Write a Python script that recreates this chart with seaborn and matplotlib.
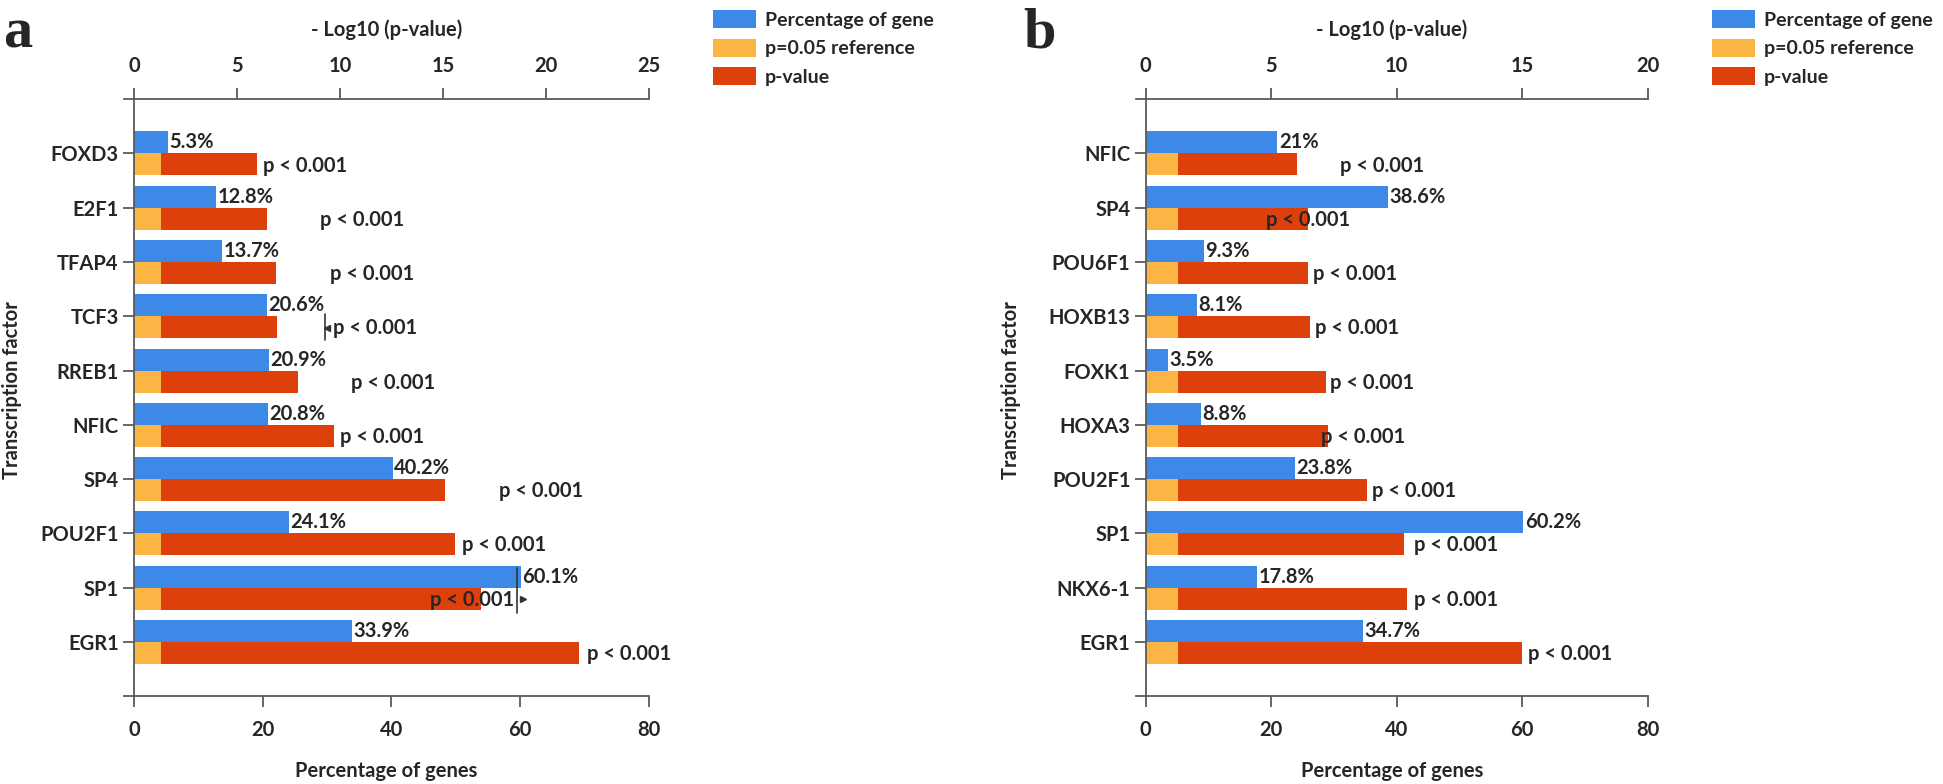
import matplotlib
matplotlib.use('Agg')
import matplotlib.pyplot as plt
from matplotlib.patches import Patch
import numpy as np
import pandas as pd
import seaborn as sns

# panel a
tf_a = ['FOXD3', 'E2F1', 'TFAP4', 'TCF3', 'RREB1', 'NFIC', 'SP4', 'POU2F1', 'SP1', 'EGR1']
pct_a = [5.3, 12.8, 13.7, 20.6, 20.9, 20.8, 40.2, 24.1, 60.1, 33.9]
logp_a = [5.95, 6.44, 6.88, 6.93, 7.95, 9.73, 15.09, 15.6, 16.87, 21.6]

# panel b
tf_b = ['NFIC', 'SP4', 'POU6F1', 'HOXB13', 'FOXK1', 'HOXA3', 'POU2F1', 'SP1', 'NKX6-1', 'EGR1']
pct_b = [21, 38.6, 9.3, 8.1, 3.5, 8.8, 23.8, 60.2, 17.8, 34.7]
logp_b = [6.01, 6.47, 6.47, 6.55, 7.17, 7.25, 8.8, 10.3, 10.4, 15.0]

p_text = 'p < 0.001'
ref_logp = -np.log10(0.05)

# where the "p < 0.001" labels start (bottom-axis units), they are placed by hand in the original
plab_a = [20.0, 28.9, 30.5, 30.9, 33.7, 32.0, 56.7, 50.9, 46.0, 70.4]
plab_b = [31.0, 19.2, 26.7, 27.0, 29.4, 28.0, 36.0, 42.7, 42.8, 60.9]

BLUE = '#3D89E8'
ORANGE = '#FBB545'
RED = '#DD400A'
AXC = '#5a5a5a'
FS = 14.5
LEG_FS = 14

sns.set_style('ticks')
plt.rcParams['font.family'] = ['Lato', 'DejaVu Sans']
plt.rcParams['font.weight'] = 'bold'
plt.rcParams['axes.labelweight'] = 'bold'
plt.rcParams['font.size'] = FS


def panel(ax, tfs, pct, logp, plab, top_max):
    scale = 80.0 / top_max
    n = len(tfs)
    df = pd.DataFrame({
        'tf': tfs * 2,
        'series': ['Percentage of gene'] * n + ['p-value'] * n,
        'value': list(pct) + [v * scale for v in logp],
    })
    sns.barplot(data=df, x='value', y='tf', hue='series',
                hue_order=['Percentage of gene', 'p-value'],
                palette={'Percentage of gene': BLUE, 'p-value': RED},
                orient='h', width=0.81, errorbar=None, saturation=1,
                legend=False, linewidth=0, ax=ax)
    blue_bars, red_bars = ax.containers[0], ax.containers[1]

    # p=0.05 reference drawn over the start of the p-value bar
    for bar in red_bars:
        ax.barh(bar.get_y() + bar.get_height() / 2, ref_logp * scale,
                height=bar.get_height(), color=ORANGE, lw=0)

    ax.bar_label(blue_bars, labels=[f'{v:g}%' for v in pct], padding=1,
                 fontsize=FS, fontweight='bold')
    for bar, x in zip(red_bars, plab):
        ax.text(x, bar.get_y() + bar.get_height() / 2 + 0.02, p_text,
                ha='left', va='center', fontsize=FS, fontweight='bold')

    ax.set_xlim(-1.5, 80)
    ax.set_ylim(10.0, -1.0)
    ax.set_xticks([0, 20, 40, 60, 80])
    ax.set_ylabel('')
    ax.set_xlabel('Percentage of genes', fontsize=FS, labelpad=15)
    ax.spines['right'].set_visible(False)
    ax.spines['top'].set_visible(False)
    ax.spines['left'].set_position(('data', 0))
    for s in ['left', 'bottom']:
        ax.spines[s].set_color(AXC)
        ax.spines[s].set_linewidth(1.3)
    ax.tick_params(axis='x', length=8, width=1.3, color=AXC, pad=9, labelsize=FS)
    ax.tick_params(axis='y', length=8, width=1.3, color=AXC, pad=3, labelsize=FS)

    sec = ax.secondary_xaxis('top', functions=(lambda x: x / scale, lambda x: x * scale))
    sec.set_xticks(np.arange(0, top_max + 1, 5))
    sec.tick_params(length=8, width=1.3, color=AXC, pad=9, labelsize=FS)
    sec.spines['top'].set_color(AXC)
    sec.spines['top'].set_linewidth(1.3)
    sec.set_xlabel('- Log10 (p-value)', fontsize=FS, labelpad=14)
    return blue_bars, red_bars


fig = plt.figure(figsize=(19.43, 7.84), dpi=100)
ax_a = fig.add_axes([0.064, 0.112, 0.270, 0.7615])
ax_b = fig.add_axes([0.5848, 0.112, 0.2632, 0.7615])

panel(ax_a, tf_a, pct_a, logp_a, plab_a, 25)
panel(ax_b, tf_b, pct_b, logp_b, plab_b, 20)

# small stray marks in panel a (TCF3 and SP1 rows)
ax_a.plot([29.6, 29.6], [3 - 0.05, 3 + 0.44], color='#333333', lw=1.2)
ax_a.plot([29.95], [3.21], marker='<', ms=5, color='#333333')
ax_a.plot([59.5, 59.5], [8 - 0.37, 8 + 0.46], color='#333333', lw=1.2)
ax_a.plot([60.4], [8.21], marker='>', ms=5, color='#333333')

handles = [Patch(color=BLUE, lw=0), Patch(color=ORANGE, lw=0), Patch(color=RED, lw=0)]
labels = ['Percentage of gene', 'p=0.05 reference', 'p-value']
for x0 in [713 / 1943, 1712 / 1943]:
    fig.legend(handles, labels, loc='upper left', bbox_to_anchor=(x0, 0.987),
               frameon=False, fontsize=LEG_FS, handlelength=2.2, handleheight=1.05,
               labelspacing=0.5, handletextpad=0.45, borderpad=0, borderaxespad=0)

for x0, letter in [(18, 'a'), (1040, 'b')]:
    fig.text(x0 / 1943, 1 - 33 / 784, letter, family='Liberation Serif',
             weight='bold', size=42, ha='center', va='center')
for x0 in [12, 1011]:
    fig.text(x0 / 1943, 1 - 390 / 784, 'Transcription factor', rotation=90,
             ha='center', va='center', fontsize=FS, fontweight='bold')

fig.savefig('out.png', dpi=100)
